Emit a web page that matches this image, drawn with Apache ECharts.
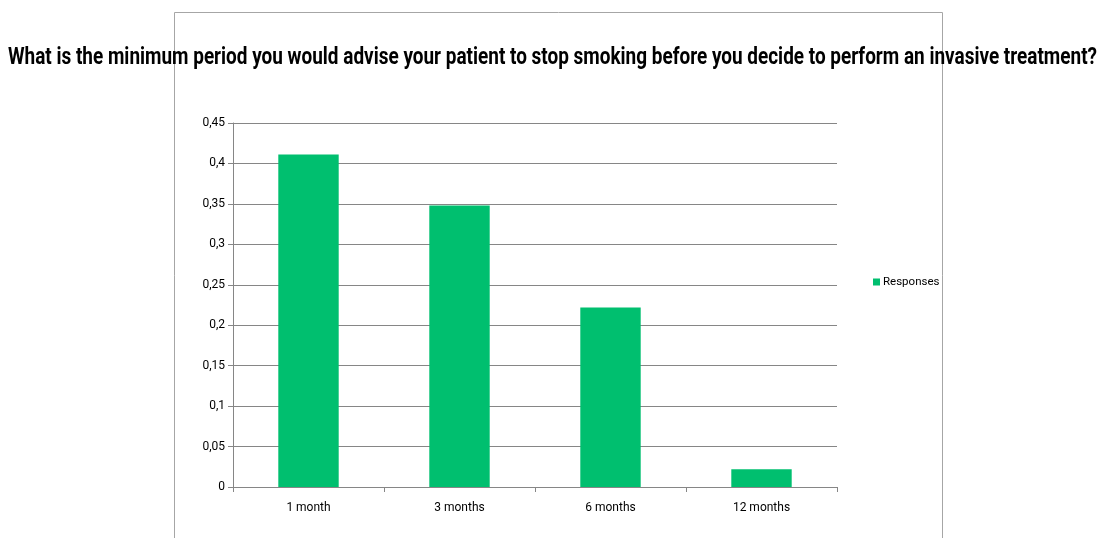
<!DOCTYPE html>
<html>
<head>
<meta charset="utf-8">
<script src="https://cdn.jsdelivr.net/npm/echarts@6/dist/echarts.min.js"></script>
<style>
  html, body { margin: 0; padding: 0; background: #fff; }
  #chart { width: 1105px; height: 538px; }
</style>
</head>
<body>
<div id="chart"></div>
<script>
// Survey answers: minimum smoke-free period before an invasive treatment
const categories = ['1 month', '3 months', '6 months', '12 months'];
const responses = [0.411, 0.348, 0.222, 0.022];
const yTicks = [0, 0.05, 0.1, 0.15, 0.2, 0.25, 0.3, 0.35, 0.4, 0.45];
const seriesName = 'Responses';
const titleText = 'What is the minimum period you would advise your patient to stop smoking before you decide to perform an invasive treatment?';

const font = 'Roboto, "Open Sans", sans-serif';
const titleFont = 'bold 24px Roboto, "Open Sans", sans-serif';

// Condense the long heading horizontally so it spans the page width
const ctx = document.createElement('canvas').getContext('2d');
ctx.font = titleFont;
const titleWidth = ctx.measureText(titleText).width;
const titleScale = Math.min(1, 1089 / titleWidth);

const chart = echarts.init(document.getElementById('chart'), null, { renderer: 'canvas' });

chart.setOption({
  backgroundColor: '#ffffff',
  animation: false,
  graphic: [{
    type: 'rect',
    z: -1,
    shape: { x: 174.5, y: 12.5, width: 768, height: 540 },
    style: { fill: 'none', stroke: '#a6a6a6', lineWidth: 1 }
  }, {
    type: 'text',
    x: 552.5,
    y: 57.5,
    scaleX: titleScale,
    z: 10,
    style: {
      text: titleText,
      font: titleFont,
      fill: '#000',
      align: 'center',
      verticalAlign: 'middle'
    }
  }],
  legend: {
    data: [seriesName],
    orient: 'vertical',
    left: 868,
    top: 271,
    itemWidth: 7,
    itemHeight: 7,
    icon: 'rect',
    itemGap: 4,
    textStyle: { fontFamily: font, fontSize: 11.5, color: '#000', padding: [0, 0, 0, -2] }
  },
  grid: { left: 233, right: 268, top: 123, bottom: 51, containLabel: false },
  xAxis: {
    type: 'category',
    data: categories,
    axisLine: { lineStyle: { color: '#868686', width: 1 } },
    axisTick: { show: true, alignWithLabel: false, length: 5, lineStyle: { color: '#868686' } },
    axisLabel: { fontFamily: font, fontSize: 12, color: '#000', margin: 15 }
  },
  yAxis: {
    type: 'value',
    min: 0,
    max: 0.45,
    interval: 0.05,
    axisLine: { show: true, lineStyle: { color: '#868686', width: 1 } },
    axisTick: { show: true, length: 5, lineStyle: { color: '#868686' } },
    splitLine: { lineStyle: { color: '#868686', width: 1 } },
    axisLabel: {
      fontFamily: font, fontSize: 12, color: '#000', margin: 8,
      formatter: v => {
        const t = yTicks.find(x => Math.abs(x - v) < 1e-9);
        return String(+(t ?? v).toFixed(2)).replace('.', ',');
      }
    }
  },
  series: [{
    name: seriesName,
    type: 'bar',
    data: responses,
    barWidth: '40%',
    itemStyle: { color: '#00bf6f' }
  }]
});
</script>
</body>
</html>
